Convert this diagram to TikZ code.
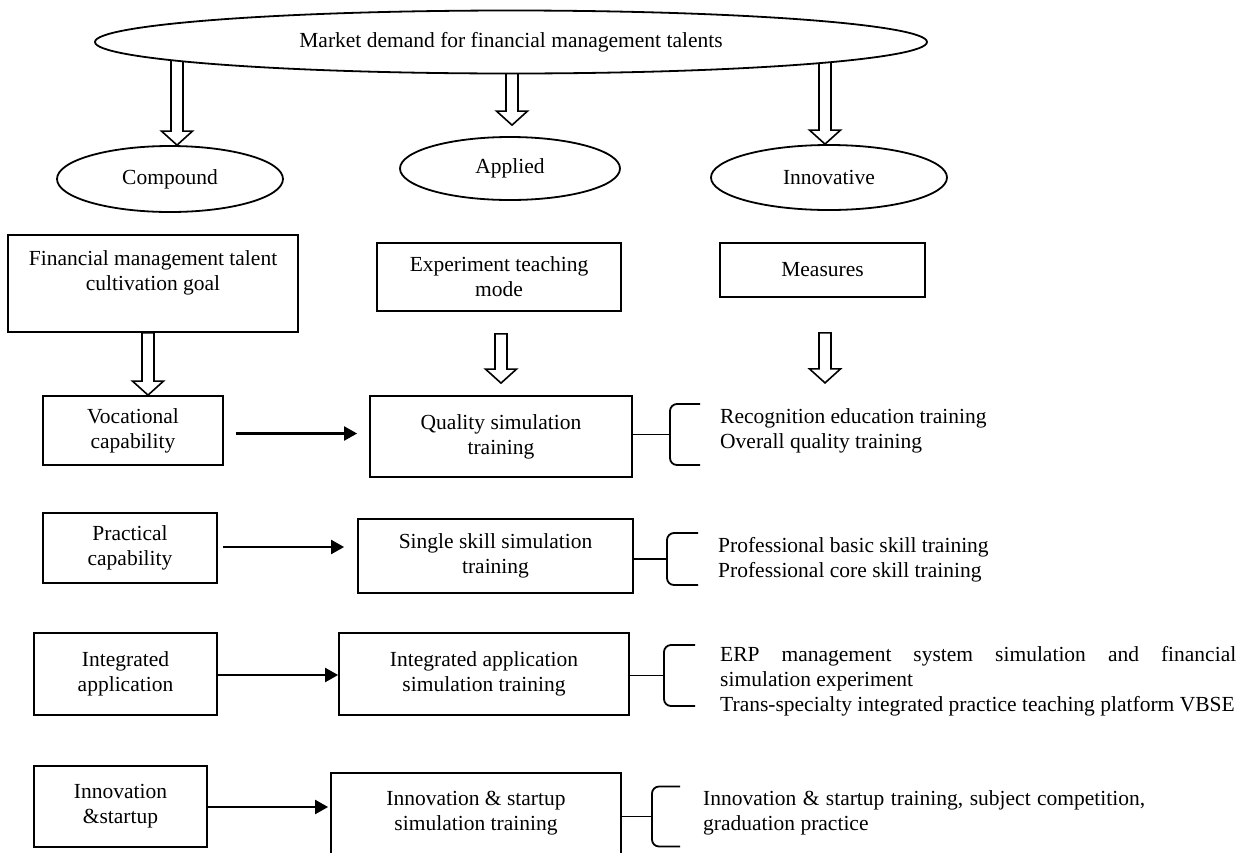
\documentclass[tikz,border=0pt]{standalone}
\usepackage{fontspec}
\setmainfont{Liberation Serif}
\usetikzlibrary{shapes.geometric,arrows.meta,positioning,calc,backgrounds}

\newcommand{\fatarrow}[2]{%
  \draw[hollow] let \p1=(#1), \p2=(#2) in
    (\x1-6pt,\y1) -- (\x1-6pt,\y2+14pt) -- (\x1-15.5pt,\y2+14pt) -- (\x1,\y2)
    -- (\x1+15.5pt,\y2+14pt) -- (\x1+6pt,\y2+14pt) -- (\x1+6pt,\y1) -- cycle;}
\newcommand{\bracket}[3]{%
  \draw[brace] ($(#1)+(#3,-#2)$) -- ($(#1)+(0,-#2)$) -- ($(#1)+(0,#2)$) -- ($(#1)+(#3,#2)$);}

\begin{document}
\begin{tikzpicture}[
    x=1pt, y=-1pt,
    every node/.style={font=\fontsize{21.5}{25}\selectfont},
    box/.style={draw, line width=1.8pt, align=center, inner sep=2pt},
    oval/.style={draw, ellipse, line width=1.8pt, fill=white, inner sep=0pt},
    link/.style={-{Triangle[length=13pt,width=14pt]}, line width=2.2pt},
    hollow/.style={draw, line width=1.6pt, fill=white},
    brace/.style={line width=1.8pt, rounded corners=7pt},
    note/.style={align=left, inner sep=0pt, anchor=west}
]
    \useasboundingbox (0,0) rectangle (1241,852);

    \node[oval, minimum width=832, minimum height=63] (market) at (511,42) {Market demand for financial management talents};
    \node[oval, minimum width=226, minimum height=66] (comp) at (170,179) {Compound};
    \node[oval, minimum width=220, minimum height=63] (appl) at (510,168.5) {Applied};
    \node[oval, minimum width=236, minimum height=65] (innov) at (829,177.5) {Innovative};

    \node[box, minimum width=290, minimum height=97,
          label={[align=center, anchor=north, inner sep=0pt, yshift=-16pt]north:Financial management talent\\cultivation goal}] (goal) at (153,283.5) {};
    \node[box, minimum width=244, minimum height=68] (expt) at (499,277) {Experiment teaching\\mode};
    \node[box, minimum width=205, minimum height=54] (meas) at (822.5,270) {Measures};

    \node[box, minimum width=180, minimum height=69] (voc) at (133,430.5) {Vocational\\capability};
    \node[box, minimum width=262, minimum height=81] (qual) at (501,436.5) {Quality simulation\\training};
    \node[box, minimum width=174, minimum height=70] (prac) at (130,548) {Practical\\capability};
    \node[box, minimum width=275, minimum height=74] (single) at (495.5,556) {Single skill simulation\\training};
    \node[box, minimum width=183, minimum height=82] (integ) at (125.5,674) {Integrated\\application};
    \node[box, minimum width=290, minimum height=82] (intsim) at (484,674) {Integrated application\\simulation training};
    \node[box, minimum width=173, minimum height=81] (startup) at (120.5,806.5) {Innovation\\\&startup};
    \node[box, minimum width=290, minimum height=81] (stsim) at (476,813.5) {Innovation \& startup\\simulation training};

    \coordinate (m1) at (177,42);
    \coordinate (m2) at (512,42);
    \coordinate (m3) at (825,42);
    \coordinate (mtip) at ($(meas.south)+(2.5,85)$);
    \begin{scope}[on background layer]
        \fatarrow{m1}{comp.north}
        \fatarrow{m2}{$(appl.north)+(0,-11)$}
        \fatarrow{m3}{innov.north}
        \fatarrow{$(goal.south)+(-5,0)$}{voc.north}
        \fatarrow{$(expt.south)+(2,22)$}{$(qual.north)+(0,-12)$}
        \fatarrow{$(meas.south)+(2.5,35)$}{mtip}
    \end{scope}

    \draw[link, shorten <=12pt, shorten >=12pt] ([yshift=-3pt]voc.east) -- ([yshift=-3pt]voc.east -| qual.west);
    \draw[link, shorten <=5pt, shorten >=13pt] ([yshift=1pt]prac.east) -- ([yshift=1pt]prac.east -| single.west);
    \draw[link] ([yshift=-1pt]integ.east) -- ([yshift=-1pt]integ.east -| intsim.west);
    \draw[link, shorten >=2pt] ([yshift=-0.5pt]startup.east) -- ([yshift=-0.5pt]startup.east -| stsim.west);

    \coordinate (b1) at (670,434.5);
    \coordinate (b2) at (667,559);
    \coordinate (b3) at (664,675.5);
    \coordinate (b4) at (652,816.5);
    \draw[line width=1.8pt] (qual.east |- b1) -- (b1);
    \draw[line width=1.8pt] (single.east |- b2) -- (b2);
    \draw[line width=1.8pt] (intsim.east |- b3) -- (b3);
    \draw[line width=1.8pt] (stsim.east |- b4) -- (b4);
    \bracket{b1}{30.5}{30}
    \bracket{b2}{26}{31}
    \bracket{b3}{30.5}{31}
    \bracket{b4}{30}{28}

    \node[note] (rec) at (720,431) {Recognition education training\\Overall quality training};
    \node[note] (prof) at (718,560) {Professional basic skill training\\Professional core skill training};
    \node[note, text width=516, align=justify] (erp) at (720,681) {ERP management system simulation and financial\linebreak simulation experiment\\Trans-specialty integrated practice teaching platform VBSE};
    \node[note, text width=442, align=justify] (comp2) at (703,812.5) {Innovation \& startup training, subject competition,\linebreak graduation practice};
\end{tikzpicture}
\end{document}
